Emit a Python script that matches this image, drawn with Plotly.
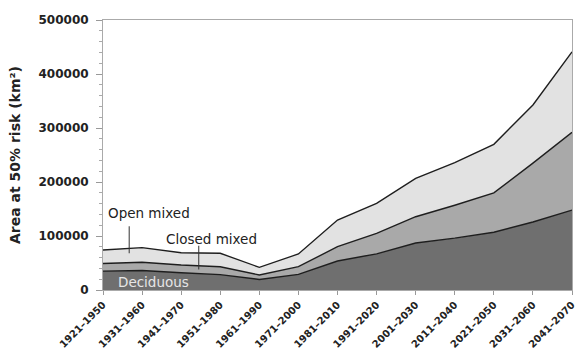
import plotly.graph_objects as go

periods = ["1921–1950", "1931–1960", "1941–1970", "1951–1980", "1961–1990",
           "1971–2000", "1981–2010", "1991–2020", "2001–2030", "2011–2040",
           "2021–2050", "2031–2060", "2041–2070"]

# Area at 50% risk (km²) contributed by each forest type (stacked)
deciduous = [35000, 36000, 32000, 28500, 19500, 29000, 53700, 67000, 87000, 96000, 107000, 126000, 148000]
closed_mixed = [14000, 15500, 14300, 14500, 8300, 14200, 26500, 38000, 48700, 61000, 73000, 109000, 144000]
open_mixed = [25000, 27000, 22700, 25000, 14200, 23500, 49400, 55500, 71100, 78700, 89700, 107600, 149000]

y_ticks = [0, 100000, 200000, 300000, 400000, 500000]

font_main = "DejaVu Sans"
edge = "#1e1e1e"

fig = go.Figure()
series = [
    ("Deciduous", deciduous, "#6f6f6f"),
    ("Closed mixed", closed_mixed, "#a9a9a9"),
    ("Open mixed", open_mixed, "#e2e2e2"),
]
for name, vals, col in series:
    fig.add_trace(go.Scatter(
        x=periods, y=vals, name=name, mode="lines",
        stackgroup="forest", fillcolor=col,
        line=dict(color=edge, width=1.4),
        hoverinfo="skip",
    ))

# in-plot labels with leader lines
fig.add_annotation(x=0.08, y=142000, xref="x", yref="y", text="Open mixed",
                   showarrow=False, xanchor="left",
                   font=dict(family=font_main, size=13.5, color="#222"))
fig.add_annotation(x=1.55, y=95000, xref="x", yref="y", text="Closed mixed",
                   showarrow=False, xanchor="left",
                   font=dict(family=font_main, size=13.5, color="#222"))
fig.add_annotation(x=0.32, y=14000, xref="x", yref="y", text="Deciduous",
                   showarrow=False, xanchor="left",
                   font=dict(family=font_main, size=13.5, color="#e6e6e6"))
fig.add_shape(type="line", xref="x", yref="y", x0=0.67, x1=0.67, y0=118000, y1=68000,
              line=dict(color="#333", width=1))
fig.add_shape(type="line", xref="x", yref="y", x0=2.45, x1=2.45, y0=82000, y1=38000,
              line=dict(color="#333", width=1))

fig.update_layout(
    width=580, height=360,
    margin=dict(l=103, r=3, t=20, b=70),
    paper_bgcolor="white", plot_bgcolor="white",
    showlegend=False,
    font=dict(family=font_main, color="#222"),
    xaxis=dict(
        range=[0, 12], type="category",
        tickangle=-45, ticks="outside", ticklen=4, tickcolor="#999",
        showline=True, linecolor="#aaa", linewidth=1, mirror=True,
        showgrid=False, zeroline=False,
        tickfont=dict(family=font_main, size=10, weight="bold", color="#222"),
    ),
    yaxis=dict(
        range=[0, 500000], tickvals=y_ticks, ticktext=[str(v) for v in y_ticks],
        ticks="outside", ticklen=6, tickcolor="#999",
        ticklabelstandoff=5,
        minor=dict(ticks="outside", dtick=20000, ticklen=3, tickcolor="#aaa"),
        showline=True, linecolor="#aaa", linewidth=1, mirror=True,
        showgrid=False, zeroline=False,
        tickfont=dict(family=font_main, size=12, weight="bold", color="#222"),
        title=dict(text="Area at 50% risk (km²)", standoff=14,
                   font=dict(family=font_main, size=14, weight="bold", color="#222")),
    ),
)

fig.write_html("out.html")
